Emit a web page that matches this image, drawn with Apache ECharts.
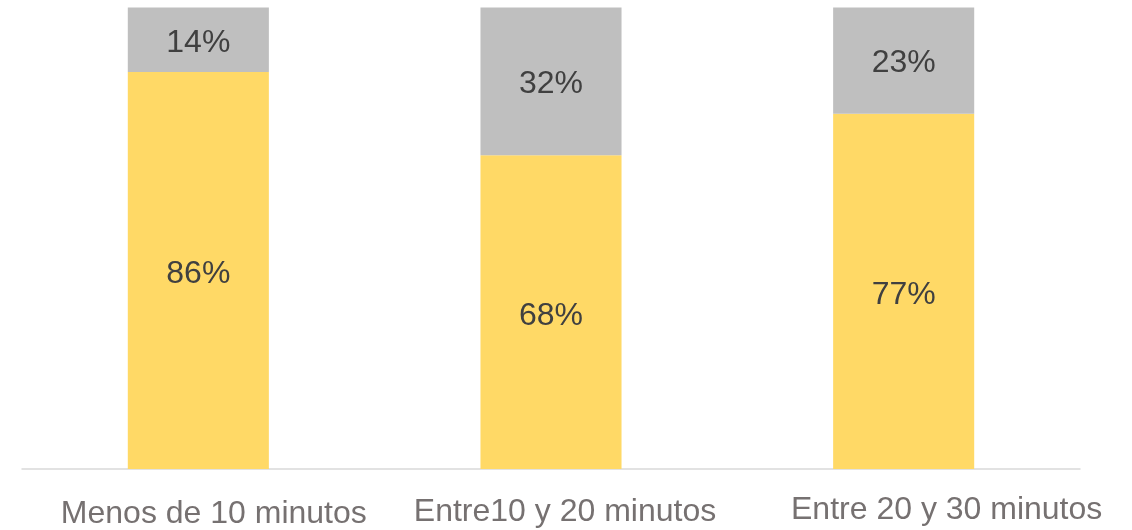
<!DOCTYPE html>
<html>
<head>
<meta charset="utf-8">
<script src="https://cdn.jsdelivr.net/npm/echarts@6/dist/echarts.min.js"></script>
<style>html,body{margin:0;padding:0;background:#fff}#c{width:1132px;height:530px}</style>
</head>
<body>
<div id="c"></div>
<script>
const categories = ['Menos de 10 minutos', 'Entre10 y 20 minutos', 'Entre 20 y 30 minutos'];
const yesValues = [86, 68, 77];
const noValues = [14, 32, 23];

const richKeys = ['a', 'b', 'c'];
const chart = echarts.init(document.getElementById('c'));
const font = "'Liberation Sans', Arial, sans-serif";
chart.setOption({
  animation: false,
  grid: { left: 22, right: 52, top: 7.5, bottom: 58, containLabel: false },
  xAxis: {
    type: 'category',
    data: categories,
    axisLine: { lineStyle: { color: '#D9D9D9', width: 1.5 } },
    axisTick: { show: false },
    axisLabel: {
      interval: 0,
      margin: 25,
      color: '#767171',
      fontFamily: font,
      fontSize: 32,
      formatter: function (v, i) { return '{' + richKeys[i] + '|' + v + '}'; },
      rich: {
        a: { fontSize: 32, fontFamily: font, color: '#767171', lineHeight: 32, padding: [8, 0, 0, 31] },
        b: { fontSize: 32, fontFamily: font, color: '#767171', lineHeight: 32, padding: [4, 0, 0, 28] },
        c: { fontSize: 32, fontFamily: font, color: '#767171', lineHeight: 32, padding: [0, 0, 0, 86] }
      }
    }
  },
  yAxis: {
    type: 'value', min: 0, max: 100,
    show: false
  },
  series: [
    {
      type: 'bar', stack: 'total', data: yesValues, barWidth: '40%',
      itemStyle: { color: '#FFD966' },
      label: { show: true, position: 'inside', offset: [0, 4], formatter: '{c}%', color: '#404040', fontSize: 32, fontFamily: font }
    },
    {
      type: 'bar', stack: 'total', data: noValues, barWidth: '40%',
      itemStyle: { color: '#BFBFBF' },
      label: { show: true, position: 'inside', offset: [0, 3], formatter: '{c}%', color: '#404040', fontSize: 32, fontFamily: font }
    }
  ]
});
</script>
</body>
</html>
